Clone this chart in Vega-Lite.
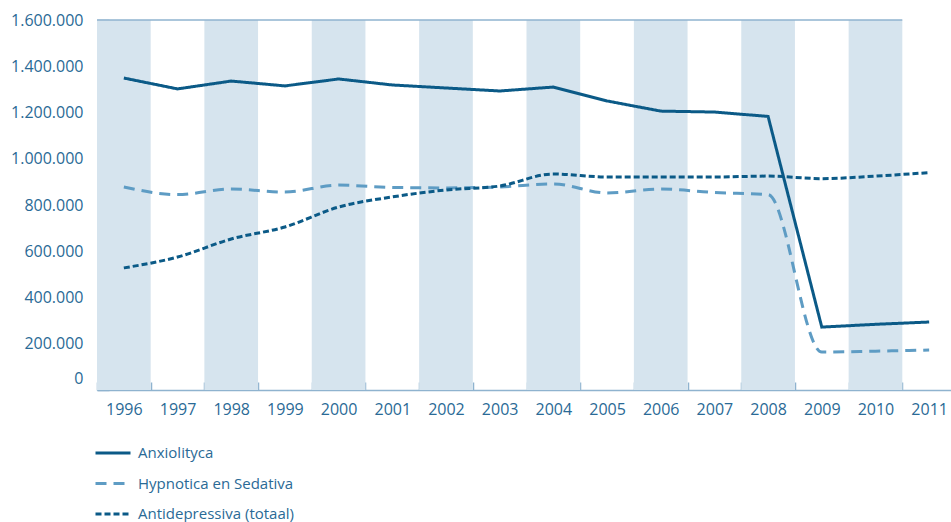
{
  "$schema": "https://vega.github.io/schema/vega-lite/v6.json",
  "width": 859,
  "height": 370,
  "autosize": {"type": "none"},
  "padding": {"left": 97, "top": 20, "right": 0, "bottom": 132},
  "config": {
    "locale": {"number": {"decimal": ",", "thousands": ".", "grouping": [3], "currency": ["€", ""]}},
    "view": {"stroke": null},
    "font": "Open Sans"
  },
  "datasets": {
    "series": [
      {"year": 1996, "series": "Anxiolityca", "value": 1349000},
      {"year": 1997, "series": "Anxiolityca", "value": 1302000},
      {"year": 1998, "series": "Anxiolityca", "value": 1336000},
      {"year": 1999, "series": "Anxiolityca", "value": 1315000},
      {"year": 2000, "series": "Anxiolityca", "value": 1345000},
      {"year": 2001, "series": "Anxiolityca", "value": 1319000},
      {"year": 2002, "series": "Anxiolityca", "value": 1306000},
      {"year": 2003, "series": "Anxiolityca", "value": 1293000},
      {"year": 2004, "series": "Anxiolityca", "value": 1310000},
      {"year": 2005, "series": "Anxiolityca", "value": 1250000},
      {"year": 2006, "series": "Anxiolityca", "value": 1206000},
      {"year": 2007, "series": "Anxiolityca", "value": 1202000},
      {"year": 2008, "series": "Anxiolityca", "value": 1183000},
      {"year": 2009, "series": "Anxiolityca", "value": 272000},
      {"year": 2010, "series": "Anxiolityca", "value": 284000},
      {"year": 2011, "series": "Anxiolityca", "value": 294000},
      {"year": 1996, "series": "Hypnotica en Sedativa", "value": 878000},
      {"year": 1997, "series": "Hypnotica en Sedativa", "value": 845000},
      {"year": 1998, "series": "Hypnotica en Sedativa", "value": 869000},
      {"year": 1999, "series": "Hypnotica en Sedativa", "value": 856000},
      {"year": 2000, "series": "Hypnotica en Sedativa", "value": 886000},
      {"year": 2001, "series": "Hypnotica en Sedativa", "value": 876000},
      {"year": 2002, "series": "Hypnotica en Sedativa", "value": 874000},
      {"year": 2003, "series": "Hypnotica en Sedativa", "value": 878000},
      {"year": 2004, "series": "Hypnotica en Sedativa", "value": 891000},
      {"year": 2005, "series": "Hypnotica en Sedativa", "value": 852000},
      {"year": 2006, "series": "Hypnotica en Sedativa", "value": 869000},
      {"year": 2007, "series": "Hypnotica en Sedativa", "value": 854000},
      {"year": 2008, "series": "Hypnotica en Sedativa", "value": 845000},
      {"year": 2009, "series": "Hypnotica en Sedativa", "value": 164000},
      {"year": 2010, "series": "Hypnotica en Sedativa", "value": 168000},
      {"year": 2011, "series": "Hypnotica en Sedativa", "value": 173000},
      {"year": 1996, "series": "Antidepressiva (totaal)", "value": 528000},
      {"year": 1997, "series": "Antidepressiva (totaal)", "value": 575000},
      {"year": 1998, "series": "Antidepressiva (totaal)", "value": 653000},
      {"year": 1999, "series": "Antidepressiva (totaal)", "value": 705000},
      {"year": 2000, "series": "Antidepressiva (totaal)", "value": 791000},
      {"year": 2001, "series": "Antidepressiva (totaal)", "value": 835000},
      {"year": 2002, "series": "Antidepressiva (totaal)", "value": 865000},
      {"year": 2003, "series": "Antidepressiva (totaal)", "value": 882000},
      {"year": 2004, "series": "Antidepressiva (totaal)", "value": 934000},
      {"year": 2005, "series": "Antidepressiva (totaal)", "value": 921000},
      {"year": 2006, "series": "Antidepressiva (totaal)", "value": 921000},
      {"year": 2007, "series": "Antidepressiva (totaal)", "value": 921000},
      {"year": 2008, "series": "Antidepressiva (totaal)", "value": 925000},
      {"year": 2009, "series": "Antidepressiva (totaal)", "value": 914000},
      {"year": 2010, "series": "Antidepressiva (totaal)", "value": 925000},
      {"year": 2011, "series": "Antidepressiva (totaal)", "value": 940000}
    ],
    "bands": [
      {"year": 1996}, {"year": 1998}, {"year": 2000}, {"year": 2002},
      {"year": 2004}, {"year": 2006}, {"year": 2008}, {"year": 2010}
    ],
    "top": [{"from": 1996, "to": 2010, "value": 1600000}]
  },
  "layer": [
    {
      "data": {"name": "bands"},
      "mark": {"type": "bar", "color": "#d6e4ee"},
      "encoding": {
        "x": {
          "field": "year",
          "type": "ordinal",
          "scale": {
            "type": "band",
            "domain": [1996, 1997, 1998, 1999, 2000, 2001, 2002, 2003, 2004, 2005, 2006, 2007, 2008, 2009, 2010, 2011],
            "paddingInner": 0,
            "paddingOuter": 0
          },
          "axis": {
            "title": null,
            "labelAngle": 0,
            "domain": true,
            "domainColor": "#8fb3cf",
            "domainWidth": 1.5,
            "tickBand": "extent",
            "tickSize": -8,
            "tickColor": "#8fb3cf",
            "tickWidth": 1.5,
            "labelPadding": 19,
            "labelFontSize": 16,
            "labelColor": "#2a6a96",
            "grid": false
          }
        }
      }
    },
    {
      "data": {"name": "top"},
      "mark": {"type": "rule", "color": "#8fb3cf", "strokeWidth": 1.5},
      "encoding": {
        "x": {"field": "from", "type": "ordinal", "bandPosition": 0},
        "x2": {"field": "to", "bandPosition": 1},
        "y": {"field": "value", "type": "quantitative"}
      }
    },
    {
      "data": {"name": "series"},
      "transform": [{"filter": "datum.series === 'Anxiolityca'"}],
      "mark": {"type": "line", "strokeWidth": 3, "interpolate": "linear"},
      "encoding": {
        "x": {"field": "year", "type": "ordinal", "bandPosition": 0.5},
        "y": {
          "field": "value",
          "type": "quantitative",
          "scale": {"domain": [0, 1600000], "nice": false},
          "axis": {
            "title": null,
            "values": [0, 200000, 400000, 600000, 800000, 1000000, 1200000, 1400000, 1600000],
            "format": ",d",
            "domain": false,
            "grid": false,
            "tickSize": -12,
            "tickColor": "#8fb3cf",
            "tickWidth": 1.5,
            "labelPadding": 26,
            "labelFontSize": 16,
            "labelColor": "#2a6a96",
            "labelOffset": {"condition": {"test": "datum.value === 0", "value": -12}, "value": 0}
          }
        },
        "color": {
          "field": "series",
          "type": "nominal",
          "scale": {
            "domain": ["Anxiolityca", "Hypnotica en Sedativa", "Antidepressiva (totaal)"],
            "range": ["#0b5a87", "#5e9cc4", "#0b5a87"]
          },
          "legend": {
            "title": null,
            "orient": "none",
            "legendX": -3,
            "legendY": 414,
            "direction": "vertical",
            "symbolType": "stroke",
            "symbolSize": 1225,
            "symbolStrokeWidth": 3,
            "labelFontSize": 15,
            "labelColor": "#2a6a96",
            "rowPadding": 3.5,
            "labelOffset": 6
          }
        },
        "strokeDash": {
          "field": "series",
          "type": "nominal",
          "scale": {
            "domain": ["Anxiolityca", "Hypnotica en Sedativa", "Antidepressiva (totaal)"],
            "range": [[1, 0], [11, 7], [6, 3]]
          },
          "legend": null
        }
      }
    },
    {
      "data": {"name": "series"},
      "transform": [{"filter": "datum.series !== 'Anxiolityca'"}],
      "mark": {"type": "line", "strokeWidth": 3, "interpolate": "monotone"},
      "encoding": {
        "x": {"field": "year", "type": "ordinal", "bandPosition": 0.5},
        "y": {"field": "value", "type": "quantitative"},
        "color": {"field": "series", "type": "nominal"},
        "strokeDash": {"field": "series", "type": "nominal"}
      }
    }
  ]
}
